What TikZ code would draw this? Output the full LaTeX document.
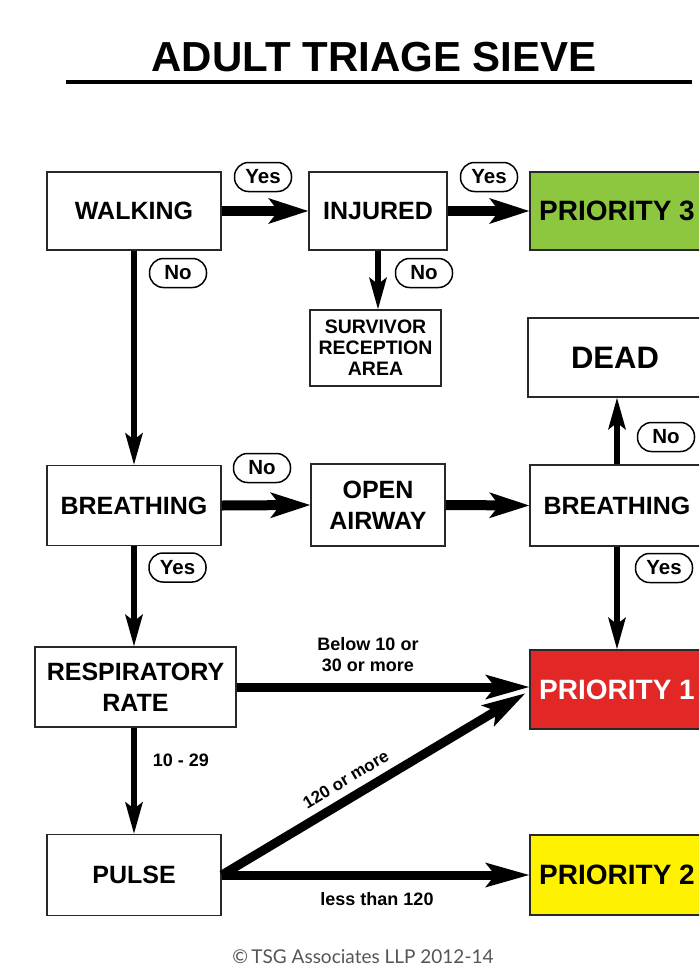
\documentclass[tikz,border=0pt]{standalone}
\usepackage{fontspec}
\setmainfont{Liberation Sans}
\newfontfamily\copyfont{Lato}
\usetikzlibrary{arrows.meta,calc}
\definecolor{pgreen}{RGB}{141,198,63}
\definecolor{pred}{RGB}{226,40,38}
\definecolor{pyellow}{RGB}{255,242,0}
\definecolor{boxline}{RGB}{40,40,40}
\definecolor{copygray}{RGB}{85,85,85}
\begin{document}
\begin{tikzpicture}[x=1pt,y=-1pt,
  box/.style={draw=boxline,line width=1.8pt,fill=white,inner sep=0pt,align=center,
    font=\fontsize{25}{31}\selectfont\bfseries,text=black},
  oval/.style={draw=black,line width=1.5pt,rounded corners=14pt,fill=white,
    minimum width=57pt,minimum height=29pt,inner sep=0pt,
    font=\fontsize{20.5}{20.5}\selectfont\bfseries},
  lbl/.style={inner sep=0pt,align=center,font=\fontsize{18}{21}\selectfont\bfseries},
  bigarrow/.style={line width=10pt,-{Stealth[length=40pt,width=26pt,inset=10pt,line width=0pt]}},
  longarrow/.style={line width=9pt,-{Stealth[length=44pt,width=25pt,inset=10pt,line width=0pt]}},
  varrow/.style={line width=6pt,-{Stealth[length=32pt,width=18pt,inset=7pt,line width=0pt]}}
]
\useasboundingbox (0,0) rectangle (699,969);
\fill[white] (0,0) rectangle (699,969);
\clip (0,0) rectangle (699,969);

% title
\node[inner sep=0pt,font=\fontsize{42}{42}\selectfont\bfseries] (title) at (374,57) {ADULT TRIAGE SIEVE};
\draw[line width=4pt] (66,82) -- (692,82);

% boxes
\node[box,minimum width=174pt,minimum height=78pt] (walk) at (134,211) {WALKING};
\node[box,minimum width=138pt,minimum height=78pt] (inj) at (378,211) {INJURED};
\node[box,fill=pgreen,minimum width=174pt,minimum height=78pt,font=\fontsize{28}{31}\selectfont\bfseries] (p3) at (617,211) {PRIORITY 3};
\node[box,minimum width=131pt,minimum height=76pt,font=\fontsize{19.5}{21}\selectfont\bfseries] (sra) at (375.5,348) {SURVIVOR\\RECEPTION\\AREA};
\node[box,minimum width=174pt,minimum height=79pt,font=\fontsize{31}{31}\selectfont\bfseries] (dead) at (615,357.5) {DEAD};
\node[box,minimum width=174pt,minimum height=80pt] (br1) at (134,505.5) {BREATHING};
\node[box,minimum width=134pt,minimum height=82pt] (oa) at (378,505) {OPEN\\AIRWAY};
\node[box,minimum width=174pt,minimum height=81pt] (br2) at (617,505.5) {BREATHING};
\node[box,minimum width=201pt,minimum height=80pt] (rr) at (135.5,687) {RESPIRATORY\\RATE};
\node[box,fill=pred,text=white,minimum width=174pt,minimum height=79pt,font=\fontsize{28}{31}\selectfont\bfseries] (p1) at (617,689.5) {PRIORITY 1};
\node[box,minimum width=174pt,minimum height=81pt] (pulse) at (134,875) {PULSE};
\node[box,fill=pyellow,minimum width=174pt,minimum height=80pt,font=\fontsize{28}{31}\selectfont\bfseries] (p2) at (617,875) {PRIORITY 2};

% connectors
\draw[bigarrow] (walk.east) -- (inj.west);
\draw[bigarrow] (inj.east) -- (p3.west);
\draw[varrow] (inj.south) -- (inj.south |- sra.north);
\draw[varrow] (walk.south) -- (br1.north);
\draw[bigarrow] (br1.east) -- (oa.west);
\draw[bigarrow] (oa.east) -- (br2.west);
\draw[varrow] (br2.north) -- (br2.north |- dead.south);
\draw[varrow] (br2.south) -- (p1.north);
\draw[varrow] (br1.south) -- (br1.south |- rr.north);
\draw[varrow] (pulse.north |- rr.south) -- (pulse.north);
\draw[longarrow] (rr.east |- 0,687) -- (p1.west |- 0,687);
\coordinate (p1d) at ($(p1.west)+(-4,4)$);
\draw[longarrow] (pulse.east) -- node[lbl,sloped,above=8pt,pos=0.44,font=\fontsize{17}{17}\selectfont\bfseries] (l120) {120 or more} (p1d);
\draw[longarrow] (pulse.east) -- (p2.west);

% yes / no ovals
\node[oval] (y1) at (263,177) {Yes};
\node[oval] (y2) at (489,177) {Yes};
\node[oval] (n1) at (178,273) {No};
\node[oval] (n2) at (424,273) {No};
\node[oval] (n3) at (666,437) {No};
\node[oval] (n4) at (262,468) {No};
\node[oval] (y3) at (177.5,567.5) {Yes};
\node[oval] (y4) at (664,568) {Yes};

% labels
\node[lbl] (lbelow) at (368,655) {Below 10 or\\30 or more};
\node[lbl] (l1029) at (181,760) {10 - 29};
\node[lbl] (lless) at (377,899) {less than 120};

% copyright
\node[inner sep=0pt,text=copygray,font=\copyfont\fontsize{19}{19}\selectfont] (copy) at (363,957) {\textcopyright\,TSG Associates LLP 2012-14};
\end{tikzpicture}
\end{document}
